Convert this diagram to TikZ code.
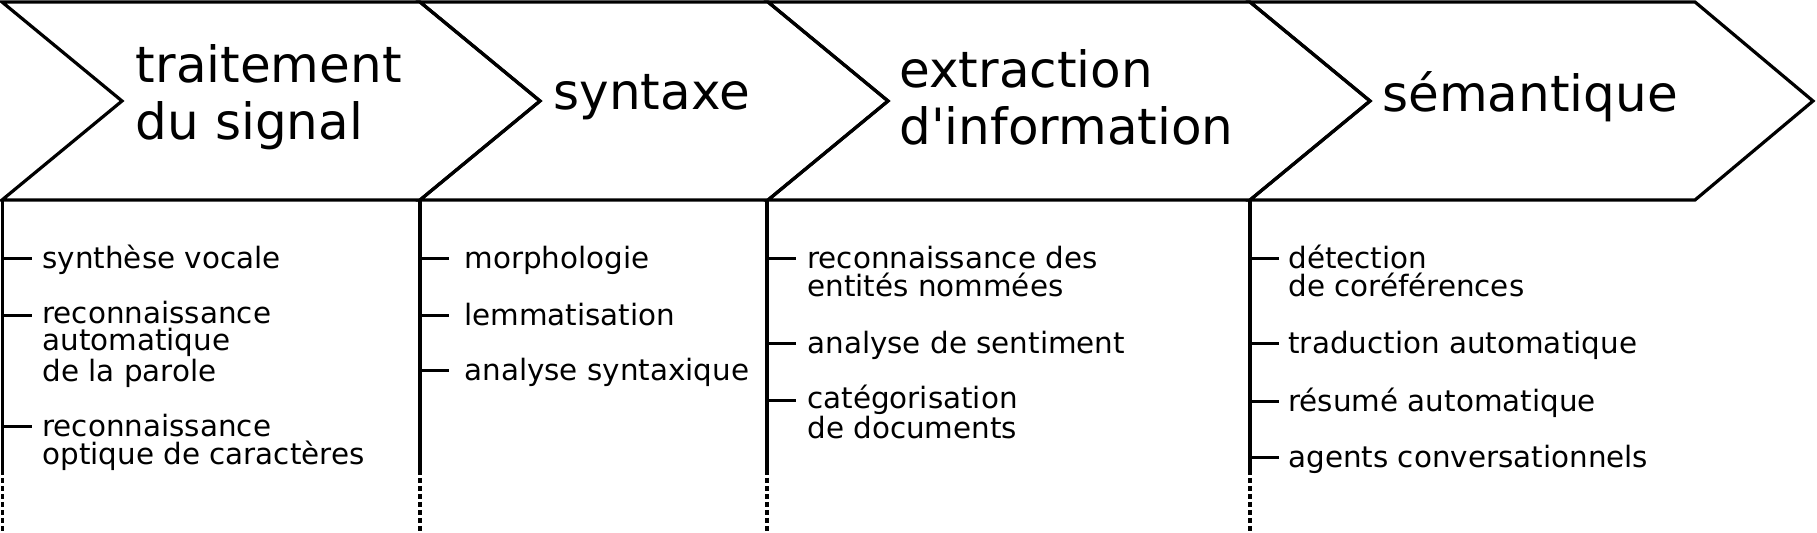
\documentclass[tikz,border=0pt]{standalone}
\usepackage{fontspec}
\newfontfamily\stagefont{DejaVu Sans}
\usetikzlibrary{calc}
\definecolor{ink}{HTML}{000000}
\tikzset{
  % ---- stages (chevrons) -----------------------------------------
  stage/.style      = {draw=ink, line width=1.6pt, line join=miter},
  head/.style       = {font=\stagefont\fontsize{25}{28.25}\selectfont,
                       text=ink, align=left, inner sep=0pt,
                       anchor=base west},
  % ---- task lists ------------------------------------------------
  spine/.style      = {draw=ink, line width=1.6pt},
  spinedash/.style  = {spine, dash pattern=on 2.6pt off 1.4pt},
  tick/.style       = {draw=ink, line width=1.5pt},
  item/.style       = {font=\stagefont\fontsize{14.7}{13.85}\selectfont,
                       text=ink, align=left, inner sep=0pt,
                       anchor=base west},
}
\begin{document}
\begin{tikzpicture}[x=0.5pt, y=-0.5pt]
  \useasboundingbox (0,0) rectangle (1817,533);
  % stages
  \draw[stage] (2,2) -- (420,2) -- (540,101) -- (420,200) -- (2,200) -- (122,101) -- cycle;
  \draw[stage] (420,2) -- (768,2) -- (888,101) -- (768,200) -- (420,200) -- (540,101) -- cycle;
  \draw[stage] (768,2) -- (1250,2) -- (1370,101) -- (1250,200) -- (768,200) -- (888,101) -- cycle;
  \draw[stage] (1250,2) -- (1695,2) -- (1813,101) -- (1695,200) -- (1250,200) -- (1370,101) -- cycle;
  % (base anchor = last line)
  \node[head] (h1) at (135.5,139.5) {traitement\\du signal};
  \node[head] (h2) at (553,110) {syntaxe};
  \node[head] (h3) at (899,144.5) {extraction\\d'information};
  \node[head] (h4) at (1382,112) {sémantique};
  % spines
  \coordinate (s1) at (2.5,200);  \coordinate (e1) at (2.5,470);  \coordinate (b1) at (2.5,533);
  \coordinate (s2) at (420,200);  \coordinate (e2) at (420,470);  \coordinate (b2) at (420,533);
  \coordinate (s3) at (767,200);  \coordinate (e3) at (767,470);  \coordinate (b3) at (767,533);
  \coordinate (s4) at (1250,200); \coordinate (e4) at (1250,470); \coordinate (b4) at (1250,533);
  \draw[spine] (s1) -- (e1);  \draw[spinedash] (e1) -- (b1);
  \draw[spine] (s2) -- (e2);  \draw[spinedash] (e2) -- (b2);
  \draw[spine] (s3) -- (e3);  \draw[spinedash] (e3) -- (b3);
  \draw[spine] (s4) -- (e4);  \draw[spinedash] (e4) -- (b4);
  % traitement du signal
  \coordinate (k11) at (2.5,259);
  \coordinate (k12) at (2.5,316);
  \coordinate (k13) at (2.5,427);
  \node[item] (i11) at (42,269) {synthèse vocale};
  \node[item] (i12) at (42,381.4) {reconnaissance\\automatique\\de la parole};
  \node[item] (i13) at (42,464.7) {reconnaissance\\optique de caractères};
  \draw[tick] (k11) -- ++(29,0);
  \draw[tick] (k12) -- ++(29,0);
  \draw[tick] (k13) -- ++(29,0);
  % syntaxe
  \coordinate (k21) at (420,259);
  \coordinate (k22) at (420,316);
  \coordinate (k23) at (420,371);
  \node[item] (i21) at (464,269) {morphologie};
  \node[item] (i22) at (464,326) {lemmatisation};
  \node[item] (i23) at (464,381) {analyse syntaxique};
  \draw[tick] (k21) -- ++(29,0);
  \draw[tick] (k22) -- ++(29,0);
  \draw[tick] (k23) -- ++(29,0);
  % extraction d'information
  \coordinate (k31) at (767,259);
  \coordinate (k32) at (767,344);
  \coordinate (k33) at (767,401);
  \node[item] (i31) at (807,296.7) {reconnaissance des\\entités nommées};
  \node[item] (i32) at (807,354) {analyse de sentiment};
  \node[item] (i33) at (807,438.7) {catégorisation\\de documents};
  \draw[tick] (k31) -- ++(29,0);
  \draw[tick] (k32) -- ++(29,0);
  \draw[tick] (k33) -- ++(29,0);
  % semantique
  \coordinate (k41) at (1250,259);
  \coordinate (k42) at (1250,344);
  \coordinate (k43) at (1250,402);
  \coordinate (k44) at (1250,458);
  \node[item] (i41) at (1288,296.7) {détection\\de coréférences};
  \node[item] (i42) at (1288,354) {traduction automatique};
  \node[item] (i43) at (1288,412) {résumé automatique};
  \node[item] (i44) at (1288,468) {agents conversationnels};
  \draw[tick] (k41) -- ++(29,0);
  \draw[tick] (k42) -- ++(29,0);
  \draw[tick] (k43) -- ++(29,0);
  \draw[tick] (k44) -- ++(29,0);
\end{tikzpicture}
\end{document}
